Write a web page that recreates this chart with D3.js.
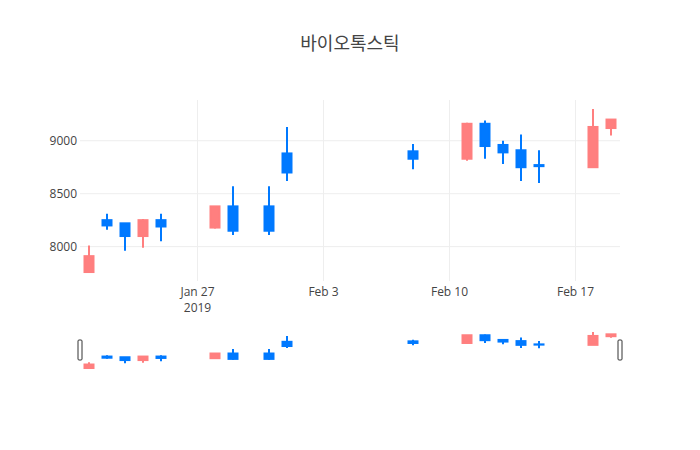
<!DOCTYPE html>
<html>
<head>
<meta charset="utf-8">
<script src="https://cdn.jsdelivr.net/npm/d3@7/dist/d3.min.js"></script>
<style>
  html, body { margin: 0; padding: 0; background: #fff; }
  svg { display: block; }
  text { font-family: "Open Sans", "Noto Sans CJK KR", sans-serif; }
</style>
</head>
<body>
<svg id="chart" width="700" height="450"></svg>
<script>
const title = "바이오톡스틱";
const dates = ["2019-01-21","2019-01-22","2019-01-23","2019-01-24","2019-01-25",
               "2019-01-28","2019-01-29","2019-01-31","2019-02-01","2019-02-08",
               "2019-02-11","2019-02-12","2019-02-13","2019-02-14","2019-02-15",
               "2019-02-18","2019-02-19"];
const open  = [7760, 8250, 8220, 8100, 8250, 8180, 8380, 8380, 8880, 8900, 8830, 9160, 8960, 8910, 8770, 8750, 9120];
const high  = [8010, 8310, 8220, 8260, 8310, 8380, 8570, 8570, 9130, 8970, 9170, 9190, 9000, 9060, 8910, 9300, 9200];
const low   = [7760, 8160, 7960, 7990, 8050, 8170, 8110, 8110, 8620, 8730, 8810, 8830, 8780, 8620, 8600, 8750, 9050];
const close = [7910, 8200, 8100, 8250, 8190, 8380, 8150, 8150, 8700, 8830, 9160, 8950, 8890, 8750, 8760, 9130, 9200];
const yTicks = [8000, 8500, 9000];
const xTickDates = ["2019-01-27","2019-02-03","2019-02-10","2019-02-17"];

const incColor = "#FF7F7F";
const decColor = "#0079FF";

const svg = d3.select("#chart");
const L = 80, R = 620, T = 100, B = 281;
const sT = 330, sB = 370;

const parse = d3.utcParse("%Y-%m-%d");
const data = dates.map((d, i) => ({ date: parse(d), o: open[i], h: high[i], l: low[i], c: close[i] }));

const dayMs = 86400000;
const x0 = new Date(data[0].date.getTime() - dayMs / 2);
const x1 = new Date(data[data.length - 1].date.getTime() + dayMs / 2);
const x = d3.scaleUtc().domain([x0, x1]).range([L, R]);

const yMin = d3.min(low), yMax = d3.max(high);
const pad = (yMax - yMin) * 0.055;
const y = d3.scaleLinear().domain([yMin - pad, yMax + pad]).range([B, T]);
const ys = d3.scaleLinear().domain([yMin - pad, yMax + pad]).range([sB, sT]);

// Title
svg.append("text").attr("x", 350).attr("y", 50).attr("text-anchor", "middle")
  .attr("font-size", 18).attr("fill", "#444").text(title);

// Grid
const grid = svg.append("g");
yTicks.forEach(t => {
  grid.append("line").attr("x1", L).attr("x2", R).attr("y1", y(t)).attr("y2", y(t))
    .attr("stroke", "#eee").attr("stroke-width", 1);
});
xTickDates.forEach(d => {
  const xv = Math.round(x(parse(d))) + 0.5;
  grid.append("line").attr("x1", xv).attr("x2", xv).attr("y1", T).attr("y2", B)
    .attr("stroke", "#eee").attr("stroke-width", 1);
});

// Y axis labels
const yAxis = d3.axisLeft(y).tickValues(yTicks).tickSize(0).tickPadding(3).tickFormat(d3.format("d"));
const gy = svg.append("g").attr("transform", `translate(${L},0)`).call(yAxis);
gy.select(".domain").remove();
gy.selectAll("text").attr("font-size", 12).attr("fill", "#444")
  .attr("font-family", "\"Open Sans\", sans-serif");

// X axis labels
const fmt = d3.utcFormat("%b %-d");
const xAxis = d3.axisBottom(x).tickValues(xTickDates.map(parse)).tickSize(0).tickPadding(0).tickFormat(fmt);
const gx = svg.append("g").attr("transform", `translate(0,${B})`).call(xAxis);
gx.select(".domain").remove();
gx.selectAll("text").attr("font-size", 12).attr("fill", "#444").attr("dy", null).attr("y", 15)
  .attr("font-family", "\"Open Sans\", sans-serif");
gx.selectAll(".tick").filter((d, i) => i === 0).append("text")
  .attr("y", 31).attr("text-anchor", "middle").attr("font-size", 12).attr("fill", "#444")
  .attr("font-family", "\"Open Sans\", sans-serif").text("2019");

// Candles
function drawCandles(g, ys_, bw) {
  const cs = g.selectAll("g.c").data(data).enter().append("g").attr("class", "c");
  cs.each(function(d) {
    const col = d.c >= d.o ? incColor : decColor;
    const cx = x(d.date);
    const sel = d3.select(this);
    sel.append("line").attr("x1", cx).attr("x2", cx).attr("y1", ys_(d.h)).attr("y2", ys_(d.l))
      .attr("stroke", col).attr("stroke-width", 2);
    const top = ys_(Math.max(d.o, d.c)), bot = ys_(Math.min(d.o, d.c));
    sel.append("rect").attr("x", cx - bw / 2).attr("y", top).attr("width", bw)
      .attr("height", Math.max(0, bot - top)).attr("fill", col)
      .attr("stroke", col).attr("stroke-width", 2);
  });
}
drawCandles(svg.append("g"), y, 9);
drawCandles(svg.append("g"), ys, 9);

// Range slider handles
[L, R].forEach(hx => {
  svg.append("rect").attr("x", hx - 2).attr("y", 340).attr("width", 4).attr("height", 20)
    .attr("rx", 1).attr("fill", "#fff").attr("stroke", "#333").attr("stroke-width", 1);
});
</script>
</body>
</html>
